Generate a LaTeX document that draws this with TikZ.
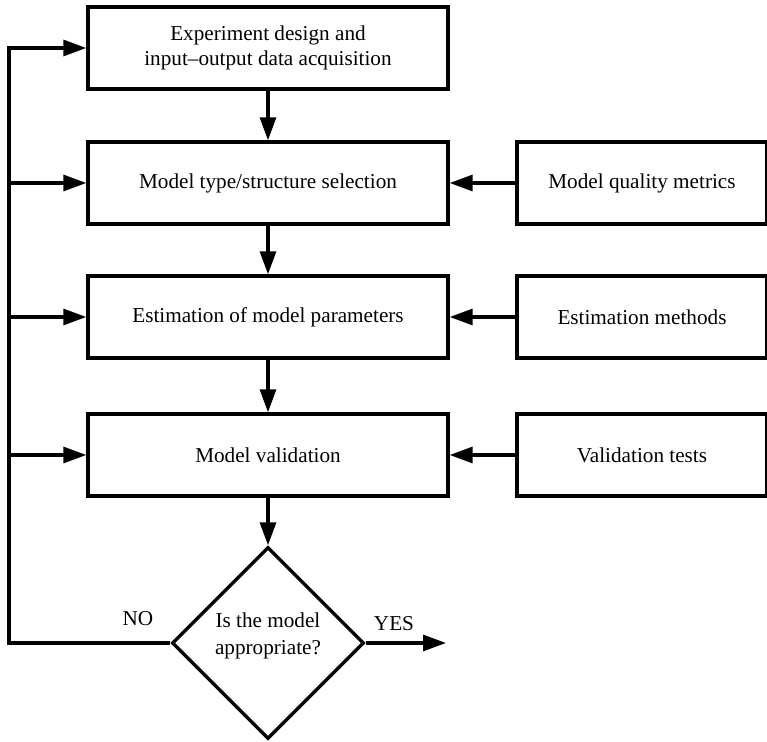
\documentclass[tikz,border=0pt]{standalone}
\usepackage{fontspec}
\setmainfont{Liberation Serif}
\usetikzlibrary{arrows.meta}
\usetikzlibrary{shapes.geometric}

\tikzset{
  stage/.style={draw, line width=1.7pt, minimum width=180pt, minimum height=41pt,
    align=center, font=\fontsize{10.6}{12.6}\selectfont},
  source/.style={stage, minimum width=125pt},
  flow/.style={line width=1.6pt, -{Triangle[length=11.5pt,width=8pt]}},
}

\begin{document}
\begin{tikzpicture}[x=0.5pt,y=-0.5pt]
  \useasboundingbox (0,0) rectangle (767,742);
  % main chain of stages
  \node [stage] (design) at (268,48) {Experiment design and\\input--output data acquisition};
  \node [stage] (structure) at (268,183) {Model type/structure selection};
  \node [stage] (estim) at (268,317) {Estimation of model parameters};
  \node [stage] (valid) at (268,455) {Model validation};
  \node [draw, diamond, line width=1.7pt, minimum size=96pt, inner sep=0pt, align=center,
    font=\fontsize{10.6}{13.4}\selectfont] (check) at (268,643) {Is the model\\appropriate?\\[-4pt]};
  % inputs on the right
  \node [source] (metrics) at (642,183) {Model quality metrics};
  \node [source] (methods) at (642,317) {Estimation methods};
  \node [source] (tests) at (642,455) {Validation tests};
  \draw [flow] (design) -- (structure);
  \draw [flow] (structure) -- (estim);
  \draw [flow] (estim) -- (valid);
  \draw [flow] (valid) -- (check);
  \draw [flow] (metrics) -- (structure);
  \draw [flow] (methods) -- (estim);
  \draw [flow] (tests) -- (valid);
  % NO: go back along the left side
  \coordinate (back) at (9,643);
  \draw [flow] (check.west) -- (back) |- (design.west);
  \draw [flow] (back |- structure.west) -- (structure.west);
  \draw [flow] (back |- estim.west) -- (estim.west);
  \draw [flow] (back |- valid.west) -- (valid.west);
  \node [font=\fontsize{10.6}{12.6}\selectfont] (no) at (138,619) {NO};
  % YES: leave the loop
  \coordinate (done) at (446,643);
  \draw [flow] (check.east) -- (done);
  \node [font=\fontsize{10.6}{12.6}\selectfont] (yes) at (394,624) {YES};
\end{tikzpicture}
\end{document}
